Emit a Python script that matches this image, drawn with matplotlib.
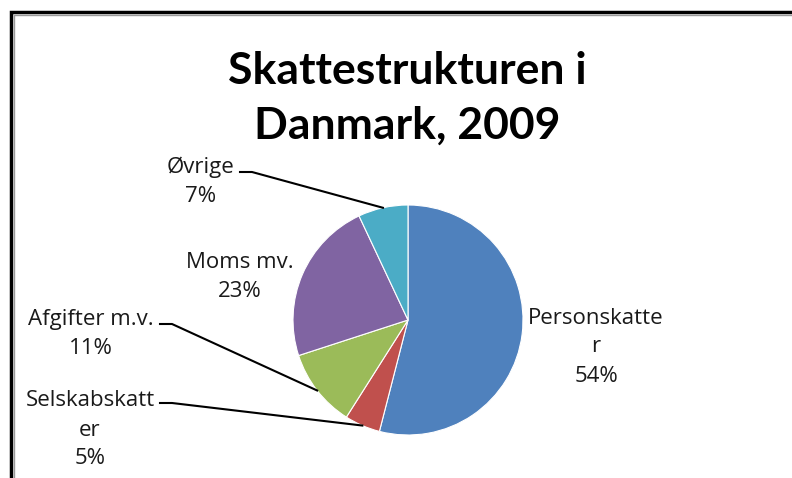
import numpy as np
import matplotlib.pyplot as plt
from matplotlib.lines import Line2D

# data
labels = ["Personskatte\nr", "Selskabskatt\ner", "Afgifter m.v.", "Moms mv.", "Øvrige"]
shares = [54, 5, 11, 23, 7]
colors = ["#4F81BD", "#C0504D", "#9BBB59", "#8064A2", "#4BACC6"]

W, H = 792, 478
fig = plt.figure(figsize=(W / 100, H / 100), dpi=100)
ax = fig.add_axes([0, 0, 1, 1])

cx, cy, r = 408, H - 320, 115
wedges, _ = ax.pie(shares, colors=colors, startangle=90, counterclock=False,
                   center=(cx, cy), radius=r, frame=True,
                   wedgeprops=dict(linewidth=0.8, edgecolor="white"))
ax.set_xlim(0, W)
ax.set_ylim(0, H)
ax.set_aspect("equal")
ax.axis("off")

font = "Open Sans"
fs = 16

# label centres (pixels, from top) and leader line start
label_pos = [(596, 347), (90, 430), (91, 334), (240, 277), (201, 182)]
leader_start = [None, (160, 403), (160, 324), None, (240, 172)]

for i, (w, lab, s) in enumerate(zip(wedges, labels, shares)):
    x, y = label_pos[i]
    ax.text(x, H - y, f"{lab}\n{s}%", ha="center", va="center", fontsize=fs,
            family=font, color="#1a1a1a", linespacing=1.5)
    if leader_start[i] is not None:
        mid = np.deg2rad((w.theta1 + w.theta2) / 2)
        ex, ey = cx + r * np.cos(mid), cy + r * np.sin(mid)
        sx, sy = leader_start[i]
        ax.add_line(Line2D([sx, sx + 12, ex], [H - sy, H - sy, ey],
                           color="black", lw=1.5))

ax.text(407, H - 98, "Skattestrukturen i\nDanmark, 2009", ha="center", va="center",
        fontsize=32, fontweight="bold", family="Lato", linespacing=1.45)

# chart frame
ax.add_line(Line2D([11, 11, W], [0, H - 12, H - 12], color="black", lw=2.5,
                   solid_joinstyle="miter"))
ax.add_line(Line2D([13.5, 13.5, W], [0, H - 14.5, H - 14.5], color="#999999", lw=1))

fig.savefig("out.png", dpi=100)
